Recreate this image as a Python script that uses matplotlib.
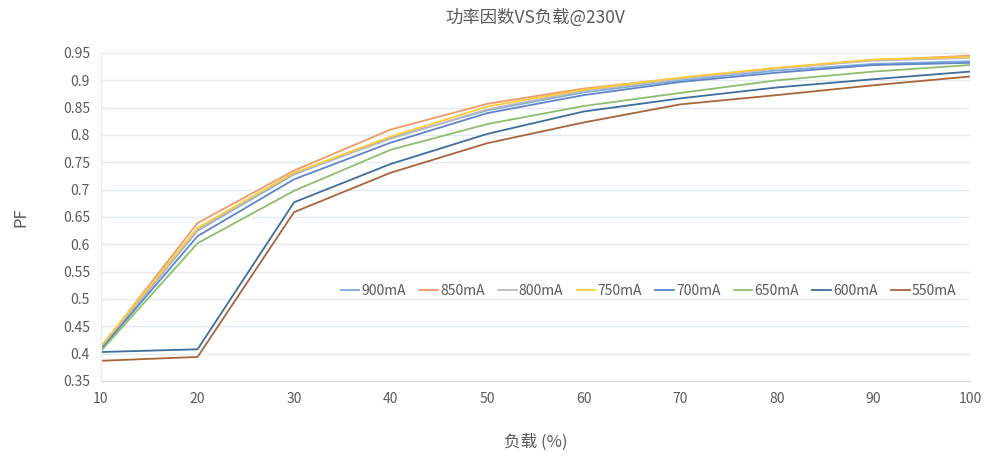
# 功率因数 vs 负载 @230V

import numpy as np
import matplotlib
matplotlib.use('Agg')
import matplotlib.pyplot as plt

plt.rcParams['font.family'] = ['Noto Sans CJK SC', 'DejaVu Sans']

# Load in percent
load = [10, 20, 30, 40, 50, 60, 70, 80, 90, 100]

# PF per drive current
pf_900 = [0.410, 0.625, 0.728, 0.795, 0.845, 0.878, 0.900, 0.918, 0.930, 0.935]
pf_850 = [0.412, 0.639, 0.735, 0.810, 0.857, 0.885, 0.904, 0.922, 0.937, 0.945]
pf_800 = [0.411, 0.627, 0.730, 0.793, 0.847, 0.881, 0.903, 0.922, 0.936, 0.941]
pf_750 = [0.414, 0.630, 0.731, 0.797, 0.852, 0.883, 0.905, 0.923, 0.938, 0.943]
pf_700 = [0.408, 0.615, 0.719, 0.786, 0.840, 0.873, 0.897, 0.914, 0.928, 0.932]
pf_650 = [0.405, 0.602, 0.698, 0.773, 0.820, 0.853, 0.877, 0.900, 0.916, 0.928]
pf_600 = [0.403, 0.408, 0.677, 0.747, 0.802, 0.843, 0.867, 0.887, 0.902, 0.916]
pf_550 = [0.387, 0.394, 0.659, 0.731, 0.785, 0.823, 0.856, 0.873, 0.891, 0.907]

labels = ['900mA', '850mA', '800mA', '750mA', '700mA', '650mA', '600mA', '550mA']
series = [pf_900, pf_850, pf_800, pf_750, pf_700, pf_650, pf_600, pf_550]
colors = ['#7FACD9', '#EE9A68', '#BBBBBB', '#FFCA3A', '#5F84C9', '#8CBF6C', '#3E6E99', '#A8653A']

fig = plt.figure(figsize=(9.87, 4.59), dpi=100)
ax = fig.add_axes([101/987, 1 - 381/459, (970 - 101)/987, (381 - 53)/459])

for y, lab, c in zip(series, labels, colors):
    ax.plot(load, y, color=c, linewidth=1.3, label=lab)

ax.set_xlim(10, 100)
ax.set_ylim(0.35, 0.95)
ax.set_xticks(load)
yt = np.round(np.arange(0.35, 0.951, 0.05), 2)
ax.set_yticks(yt)
ax.set_yticklabels([('%.2f' % v).rstrip('0') for v in yt])

ax.grid(axis='y', color='#E3EAF2', linewidth=1.0)
ax.grid(axis='x', visible=False)
ax.set_axisbelow(True)
for s in ['top', 'right']:
    ax.spines[s].set_visible(False)
ax.spines['left'].set_color('#E3EAF2')
ax.spines['bottom'].set_color('#D9D9D9')
ax.tick_params(length=0, labelsize=10, colors='#595959', pad=8)

ax.set_title('功率因数VS负载@230V', fontsize=12.5, color='#595959', pad=22)
ax.set_ylabel('PF', fontsize=12, color='#595959', labelpad=24)
ax.set_xlabel('负载 (%)', fontsize=12, color='#595959', labelpad=20)

ax.legend(loc='center', bbox_to_anchor=(0.63, 0.275), ncol=8, frameon=False,
          fontsize=10, handlelength=1.35, handletextpad=0.15, columnspacing=0.95,
          labelcolor='#595959')

plt.savefig('out.png', dpi=100)
